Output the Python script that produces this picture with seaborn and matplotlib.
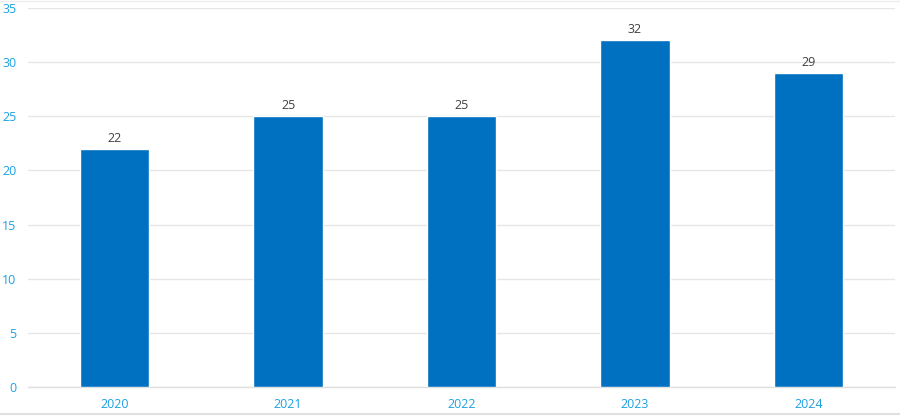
import matplotlib
matplotlib.use("Agg")
import matplotlib.pyplot as plt
import seaborn as sns
import pandas as pd
from matplotlib.lines import Line2D

years = ["2020", "2021", "2022", "2023", "2024"]
values = [22, 25, 25, 32, 29]
yticks = [0, 5, 10, 15, 20, 25, 30, 35]

sns.set_theme(style="white")
plt.rcParams['font.family'] = ['Open Sans', 'DejaVu Sans']

df = pd.DataFrame({"year": years, "value": values})

fig = plt.figure(figsize=(9, 4.16), dpi=100)
ax = fig.add_axes([28/900, 1-387/416, (895-28)/900, (387-8)/416])

sns.barplot(data=df, x="year", y="value", color="#0070c0", saturation=1,
            width=0.4, ax=ax, zorder=3)

ax.set_ylim(0, 35)
ax.set_yticks(yticks)
ax.set_xlim(-0.5, len(years)-0.5)
ax.yaxis.grid(True, color="#e6e6e6", linewidth=1, zorder=0)
ax.set_axisbelow(True)
for s in ["top", "right", "left"]:
    ax.spines[s].set_visible(False)
ax.spines["bottom"].set_color("#e0e0e0")
ax.spines["bottom"].set_linewidth(1)
ax.set_xlabel("")
ax.set_ylabel("")
ax.tick_params(axis="both", length=0, labelsize=9, labelcolor="#1ba1e2")
ax.tick_params(axis="y", pad=8.5)
ax.tick_params(axis="x", pad=8)

for c in ax.containers:
    ax.bar_label(c, labels=[str(v) for v in values], padding=3, fontsize=9, color="#404040")

fig.add_artist(Line2D([0, 1], [1-414/416, 1-414/416], color="#e0e0e0", lw=1.5, transform=fig.transFigure))
fig.add_artist(Line2D([0, 1], [1-0.5/416, 1-0.5/416], color="#eeeeee", lw=1, transform=fig.transFigure))

fig.savefig("out.png", dpi=100)
